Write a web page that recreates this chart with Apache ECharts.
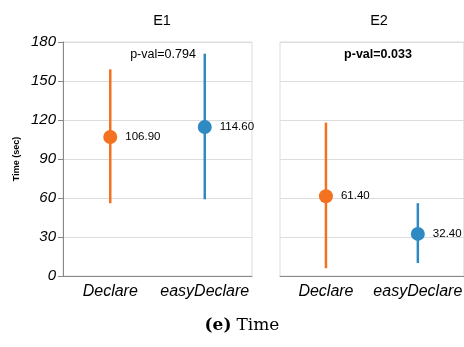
<!DOCTYPE html>
<html><head><meta charset="utf-8">
<script src="https://cdn.jsdelivr.net/npm/echarts@6/dist/echarts.min.js"></script>
<style>html,body{margin:0;padding:0;background:#fff}#c{width:464px;height:347px}</style>
</head><body><div id="c"></div>
<script>
const categories = ['Declare', 'easyDeclare'];
const panels = ['E1', 'E2'];
const pvals = ['p-val=0.794', 'p-val=0.033'];
const e1Mean = [106.9, 114.6];
const e1Low = [56, 59];
const e1High = [159, 171];
const e2Mean = [61.4, 32.4];
const e2Low = [6, 10];
const e2High = [118, 56];
const yTicks = [0, 30, 60, 90, 120, 150, 180];
const colors = ['#f4711f', '#2f8ac3'];

const chart = echarts.init(document.getElementById('c'), null, {renderer: 'canvas'});
const grids = [
  {left: 63, top: 42, width: 189, height: 234, show: true, borderColor: '#ddd', borderWidth: 1},
  {left: 280, top: 42, width: 189, height: 234, show: true, borderColor: '#ddd', borderWidth: 1}
];
function xAx(i) {
  return {gridIndex: i, type: 'category', data: categories,
    axisLine: {lineStyle: {color: '#888'}},
    axisTick: {alignWithLabel: true, length: 5, lineStyle: {color: '#888'}},
    axisLabel: {interval: 0, fontStyle: 'italic', fontSize: 16, color: '#000', margin: 8, fontFamily: 'Liberation Sans'},
    splitLine: {show: false}};
}
function yAx(i) {
  return {gridIndex: i, type: 'value', min: yTicks[0], max: yTicks[yTicks.length - 1], interval: yTicks[1] - yTicks[0],
    name: i === 0 ? 'Time (sec)' : '', nameLocation: 'middle', nameGap: 42,
    nameTextStyle: {fontWeight: 'bold', fontSize: 9, color: '#000', fontFamily: 'Liberation Sans'},
    axisLine: {show: i === 0, lineStyle: {color: '#888'}},
    axisTick: {show: i === 0, length: 5, lineStyle: {color: '#888'}},
    axisLabel: {show: i === 0, fontStyle: 'italic', fontSize: 15, color: '#000', margin: 7, fontFamily: 'Liberation Sans'},
    splitLine: {lineStyle: {color: '#ddd'}}};
}
function errSeries(i, low, high) {
  return {type: 'custom', xAxisIndex: i, yAxisIndex: i,
    data: categories.map((c, k) => [k, low[k], high[k]]),
    renderItem: function (params, api) {
      const a = api.coord([api.value(0), api.value(1)]);
      const b = api.coord([api.value(0), api.value(2)]);
      return {type: 'line', shape: {x1: a[0], y1: a[1], x2: b[0], y2: b[1]},
        style: {stroke: colors[params.dataIndex], lineWidth: 2.5}};
    }, z: 2};
}
function dotSeries(i, mean) {
  return {type: 'scatter', xAxisIndex: i, yAxisIndex: i, symbolSize: 14, z: 3,
    data: mean.map((v, k) => ({value: [k, v], itemStyle: {color: colors[k], opacity: 1}})),
    label: {show: true, position: 'right', distance: 8, fontSize: 11.5, color: '#000', fontFamily: 'Liberation Sans',
      formatter: p => p.value[1].toFixed(2)}};
}
const tStyle = {fontSize: 14.5, fontWeight: 'normal', color: '#000', fontFamily: 'Liberation Sans'};
chart.setOption({
  animation: false,
  grid: grids,
  title: [
    {text: panels[0], left: 157, top: 8, textAlign: 'center', textStyle: tStyle},
    {text: panels[1], left: 374, top: 8, textAlign: 'center', textStyle: tStyle},
    {text: pvals[0], left: 158, top: 43, textAlign: 'center', textStyle: {fontSize: 12.5, fontWeight: 'normal', color: '#000', fontFamily: 'Liberation Sans'}},
    {text: pvals[1], left: 373, top: 43, textAlign: 'center', textStyle: {fontSize: 12.5, fontWeight: 'bold', color: '#000', fontFamily: 'Liberation Sans'}},
    {text: '{b|(e)} {n|Time}', left: 237, top: 312, textAlign: 'center', textStyle: {rich: {
      b: {fontSize: 17, fontWeight: 'bold', fontFamily: 'DejaVu Serif', color: '#000'},
      n: {fontSize: 17, fontWeight: 'normal', fontFamily: 'DejaVu Serif', color: '#000'}}}}
  ],
  xAxis: [xAx(0), xAx(1)],
  yAxis: [yAx(0), yAx(1)],
  series: [errSeries(0, e1Low, e1High), dotSeries(0, e1Mean), errSeries(1, e2Low, e2High), dotSeries(1, e2Mean)]
});
</script></body></html>
